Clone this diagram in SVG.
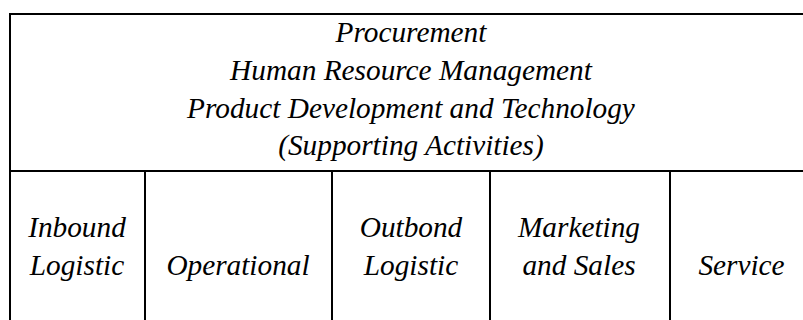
<svg xmlns="http://www.w3.org/2000/svg" width="803" height="320" viewBox="0 0 803 320">
  <style>
    .rule { stroke: #000; stroke-width: 2; fill: none; }
    .label { font-family: "Liberation Serif", "Times New Roman", serif; font-style: italic; font-size: 29.3px; fill: #000; text-anchor: middle; }
  </style>
  <rect x="0" y="0" width="803" height="320" fill="#fff"/>

  <!-- table rules -->
  <g id="connectors">
    <line class="rule" x1="10" y1="14" x2="813" y2="14"/>
    <line class="rule" x1="10" y1="171" x2="813" y2="171"/>
    <line class="rule" x1="10" y1="13" x2="10" y2="320"/>
    <line class="rule" x1="145" y1="171" x2="145" y2="320"/>
    <line class="rule" x1="332" y1="171" x2="332" y2="320"/>
    <line class="rule" x1="490" y1="171" x2="490" y2="320"/>
    <line class="rule" x1="670" y1="171" x2="670" y2="320"/>
  </g>

  <!-- support activities band -->
  <g id="supporting-activities">
    <text class="label" x="411" y="42">Procurement</text>
    <text class="label" x="411" y="80">Human Resource Management</text>
    <text class="label" x="411" y="118">Product Development and Technology</text>
    <text class="label" x="411" y="155">(Supporting Activities)</text>
  </g>

  <!-- primary activities -->
  <g id="inbound-logistic">
    <text class="label" x="77" y="237">Inbound</text>
    <text class="label" x="77" y="275">Logistic</text>
  </g>
  <g id="operational">
    <text class="label" x="238" y="275">Operational</text>
  </g>
  <g id="outbond-logistic">
    <text class="label" x="411" y="237">Outbond</text>
    <text class="label" x="411" y="275">Logistic</text>
  </g>
  <g id="marketing-sales">
    <text class="label" x="579" y="237">Marketing</text>
    <text class="label" x="579" y="275">and Sales</text>
  </g>
  <g id="service">
    <text class="label" x="741.5" y="275">Service</text>
  </g>
</svg>
